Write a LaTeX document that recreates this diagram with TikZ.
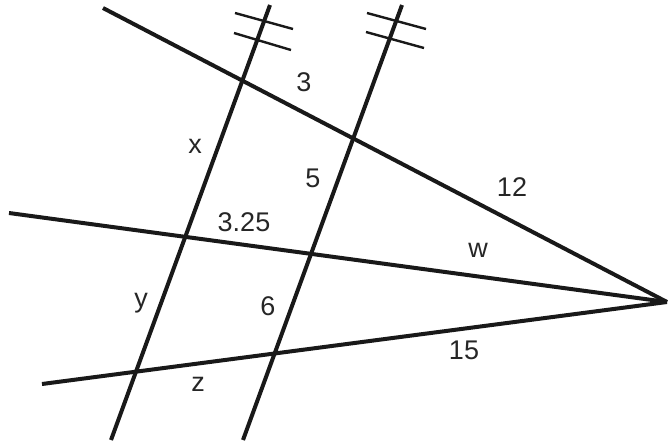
\documentclass[tikz,border=0pt]{standalone}
\usepackage{fontspec}
\setmainfont{Liberation Sans}
\begin{document}
\begin{tikzpicture}[x=1pt,y=-1pt,
  ln/.style={line width=4pt,black!90},
  tk/.style={line width=2.4pt,black!90},
  lbl/.style={font=\fontsize{27}{31}\selectfont,anchor=base,inner sep=0pt,text=black!85}]
\useasboundingbox (0,0) rectangle (671,445);
% apex and end points
\coordinate (P) at (667,302);
\coordinate (T) at (103,8);
\coordinate (M) at (9,213);
\coordinate (B) at (42,384);
\coordinate (L1) at (270,5);
\coordinate (L2) at (111,440);
\coordinate (R1) at (402,5);
\coordinate (R2) at (243,440);
% tick ends
\coordinate (a1) at (235,13); \coordinate (a2) at (293,29);
\coordinate (b1) at (234,33); \coordinate (b2) at (291,50);
\coordinate (c1) at (367,13); \coordinate (c2) at (426,29);
\coordinate (d1) at (366,32); \coordinate (d2) at (424,48);
% lines
\draw[ln] (T) -- (P);
\draw[ln] (M) -- (P);
\draw[ln] (B) -- (P);
\draw[ln] (L1) -- (L2);
\draw[ln] (R1) -- (R2);
\draw[tk] (a1) -- (a2);
\draw[tk] (b1) -- (b2);
\draw[tk] (c1) -- (c2);
\draw[tk] (d1) -- (d2);
% labels
\node[lbl] (n3) at (304,91) {3};
\node[lbl] (nx) at (195,153) {x};
\node[lbl] (n5) at (313,187) {5};
\node[lbl] (n12) at (512,196) {12};
\node[lbl] (n325) at (244,231) {3.25};
\node[lbl] (nw) at (478,257) {w};
\node[lbl] (ny) at (141,307) {y};
\node[lbl] (n6) at (268,315) {6};
\node[lbl] (n15) at (464,359) {15};
\node[lbl] (nz) at (198,391) {z};
\end{tikzpicture}
\end{document}
